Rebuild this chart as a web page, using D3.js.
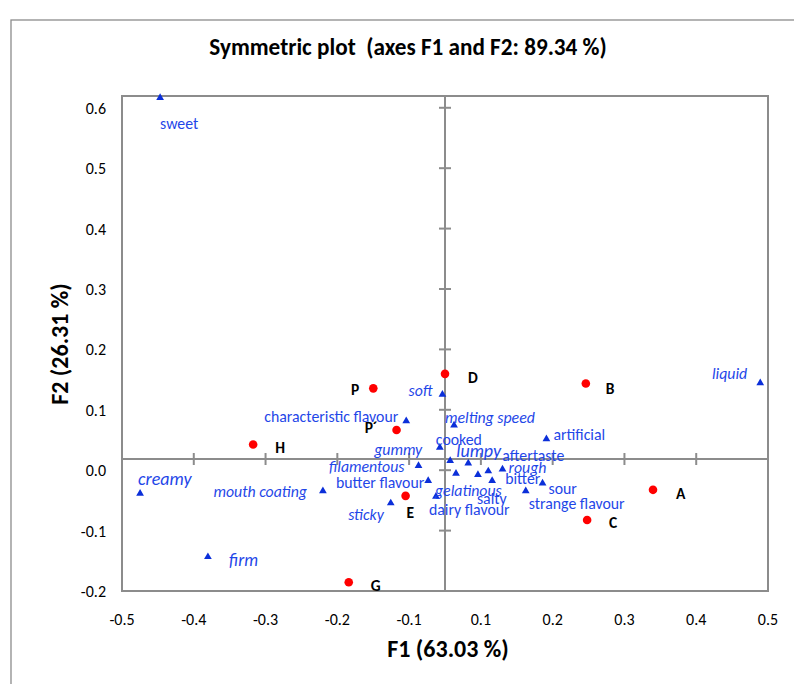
<!DOCTYPE html>
<html><head><meta charset="utf-8">
<script src="https://cdn.jsdelivr.net/npm/d3@7/dist/d3.min.js"></script>
<style>
html,body{margin:0;padding:0;background:#fff;}
svg{display:block;}
</style></head>
<body>
<svg id="chart" width="794" height="684"></svg>
<script>
// ---- Data ----
const obsNames = ["A", "B", "C", "D", "E", "G", "H", "P", "P\u00b4"];
const obsF1 = [0.322, 0.218, 0.220, 0.000, -0.061, -0.149, -0.297, -0.111, -0.075];
const obsF2 = [-0.051, 0.125, -0.101, 0.141, -0.061, -0.204, 0.024, 0.117, 0.048];

const varNames = ["sweet", "creamy", "firm", "mouth coating", "sticky", "characteristic flavour",
  "soft", "melting speed", "cooked", "artificial", "liquid", "gummy", "lumpy", "gelatinous",
  "salty", "aftertaste", "rough", "bitter", "strange flavour", "sour", "filamentous",
  "butter flavour", "dairy flavour"];
const varF1 = [-0.441, -0.472, -0.367, -0.189, -0.084, -0.060, -0.004, 0.014, -0.008, 0.157, 0.488,
  0.008, 0.036, 0.017, 0.051, 0.067, 0.089, 0.073, 0.125, 0.151, -0.041, -0.026, -0.014];
const varF2 = [0.598, -0.057, -0.162, -0.053, -0.073, 0.063, 0.107, 0.056, 0.019, 0.033, 0.126,
  -0.003, -0.007, -0.024, -0.026, -0.020, -0.017, -0.036, -0.053, -0.040, -0.011, -0.036, -0.062];
const varItalic = [false, true, true, true, true, false, true, true, false, false, true,
  true, true, true, false, false, true, false, false, false, true, false, false];

const xDomain = [-0.5, 0.5];
const xStep = 1 / 9;
const xTickLabels = ["-0.5", "-0.4", "-0.3", "-0.2", "-0.1", "0.1", "0.2", "0.3", "0.4", "0.5"];
const yDomain = [-0.2185, 0.601];
const yStep = 0.1;
const yTickLabels = ["-0.2", "-0.1", "0.0", "0.1", "0.2", "0.3", "0.4", "0.5", "0.6"];

const titleText = "Symmetric plot  (axes F1 and F2: 89.34 %)";
const xTitle = "F1 (63.03 %)";
const yTitle = "F2 (26.31 %)";

// ---- Label layout (pixel offsets from the point, anchor, font size) ----
const obsLabelPos = [[23,4,"start"],[20,5,"start"],[22,3,"start"],[23,4,"start"],[1,17,"start"],
  [22,3,"start"],[22,3,"start"],[-14,1,"end"],[-19,-2,"end"]];
const varLabelPos = [[0,26,"start",15.8],[-2,-15,"start",18],[21,3,"start",17.5],[-16,0,"end",15.8],
  [-7,11,"end",15.8],[-8,-4,"end",15.8],[-10,-4,"end",15.8],[-9,-8,"start",15.8],[-4,-8,"start",15.8],
  [7,-5,"start",15.8],[-13,-9,"end",15.8],[-28,-11,"end",15.8],[-12,-13,"start",18],[-21,17,"start",15.8],
  [-1,24,"start",15.8],[14,-16,"start",15.8],[6,-2,"start",15.8],[13,-2,"start",15.8],[3,12,"start",15.8],
  [6,5,"start",15.8],[-14,1,"end",15.8],[-4,2,"end",15.8],[-7,13,"start",15.8]];

// ---- Drawing ----
const svg = d3.select("#chart");
const pLeft = 122, pRight = 768, pTop = 96, pBottom = 591;
const x = d3.scaleLinear().domain(xDomain).range([pLeft, pRight]);
const y = d3.scaleLinear().domain(yDomain).range([pBottom, pTop]);
const gray = "#8c8c8c";
const blueText = "#1f47e8";
const blueMark = "#0b2fd9";
const font = "Carlito, Lato, 'Liberation Sans', sans-serif";

// outer frame
svg.append("rect").attr("x", 11).attr("y", 20).attr("width", 900).attr("height", 800)
  .attr("fill", "none").attr("stroke", gray).attr("stroke-width", 1.3);

// title
svg.append("text").attr("x", 408).attr("y", 55).attr("text-anchor", "middle")
  .style("white-space", "pre")
  .attr("font-family", font).attr("font-weight", "bold").attr("font-size", 23.2)
  .attr("fill", "#000").text(titleText);

// plot box
svg.append("rect").attr("x", pLeft).attr("y", pTop).attr("width", pRight - pLeft).attr("height", pBottom - pTop)
  .attr("fill", "none").attr("stroke", gray).attr("stroke-width", 2);

const xTicks = xTickLabels.map((d, i) => xDomain[0] + i * xStep);
const yTicks = yTickLabels.map((d, i) => yDomain[0] + i * yStep);

// axes through origin
const x0 = x(0), y0 = y(0);
svg.append("line").attr("x1", x0).attr("x2", x0).attr("y1", pTop).attr("y2", pBottom)
  .attr("stroke", gray).attr("stroke-width", 2);
svg.append("line").attr("x1", pLeft).attr("x2", pRight).attr("y1", y0).attr("y2", y0)
  .attr("stroke", gray).attr("stroke-width", 2);
// cross ticks
svg.append("g").selectAll("line").data(xTicks).join("line")
  .attr("x1", d => x(d)).attr("x2", d => x(d)).attr("y1", y0 - 6).attr("y2", y0 + 6)
  .attr("stroke", gray).attr("stroke-width", 2);
svg.append("g").selectAll("line").data(yTicks).join("line")
  .attr("x1", x0 - 6).attr("x2", x0 + 6).attr("y1", d => y(d)).attr("y2", d => y(d))
  .attr("stroke", gray).attr("stroke-width", 2);

// tick labels (low position)
svg.append("g").selectAll("text").data(xTicks).join("text")
  .attr("x", d => x(d)).attr("y", 625).attr("text-anchor", "middle")
  .attr("font-family", font).attr("font-size", 16).attr("fill", "#000")
  .text((d, i) => xTickLabels[i]);
svg.append("g").selectAll("text").data(yTicks).join("text")
  .attr("x", 106).attr("y", d => y(d) + 6).attr("text-anchor", "end")
  .attr("font-family", font).attr("font-size", 16).attr("fill", "#000")
  .text((d, i) => yTickLabels[i]);

// axis titles
svg.append("text").attr("x", 448).attr("y", 657).attr("text-anchor", "middle")
  .attr("font-family", font).attr("font-weight", "bold").attr("font-size", 24)
  .attr("fill", "#000").text(xTitle);
svg.append("text").attr("transform", "translate(68,344) rotate(-90)").attr("text-anchor", "middle")
  .attr("font-family", font).attr("font-weight", "bold").attr("font-size", 24)
  .attr("fill", "#000").text(yTitle);

// variables (blue triangles)
const varIdx = d3.range(varNames.length);
svg.append("g").selectAll("path").data(varIdx).join("path")
  .attr("d", d3.symbol().type(d3.symbolTriangle).size(26))
  .attr("transform", i => `translate(${x(varF1[i])},${y(varF2[i])})`)
  .attr("fill", blueMark);
svg.append("g").selectAll("text").data(varIdx).join("text")
  .attr("x", i => x(varF1[i]) + varLabelPos[i][0])
  .attr("y", i => y(varF2[i]) + varLabelPos[i][1])
  .attr("dy", "0.35em")
  .attr("text-anchor", i => varLabelPos[i][2])
  .attr("font-size", i => varLabelPos[i][3])
  .attr("font-style", i => varItalic[i] ? "italic" : "normal")
  .attr("font-family", font).attr("fill", blueText)
  .text(i => varNames[i]);

// observations (red circles)
const obsIdx = d3.range(obsNames.length);
svg.append("g").selectAll("circle").data(obsIdx).join("circle")
  .attr("cx", i => x(obsF1[i])).attr("cy", i => y(obsF2[i])).attr("r", 4.3)
  .attr("fill", "#ff0000");
svg.append("g").selectAll("text").data(obsIdx).join("text")
  .attr("x", i => x(obsF1[i]) + obsLabelPos[i][0])
  .attr("y", i => y(obsF2[i]) + obsLabelPos[i][1])
  .attr("dy", "0.35em")
  .attr("text-anchor", i => obsLabelPos[i][2])
  .attr("font-family", font).attr("font-weight", "bold").attr("font-size", 15.5)
  .attr("fill", "#000")
  .text(i => obsNames[i]);
</script>
</body></html>
